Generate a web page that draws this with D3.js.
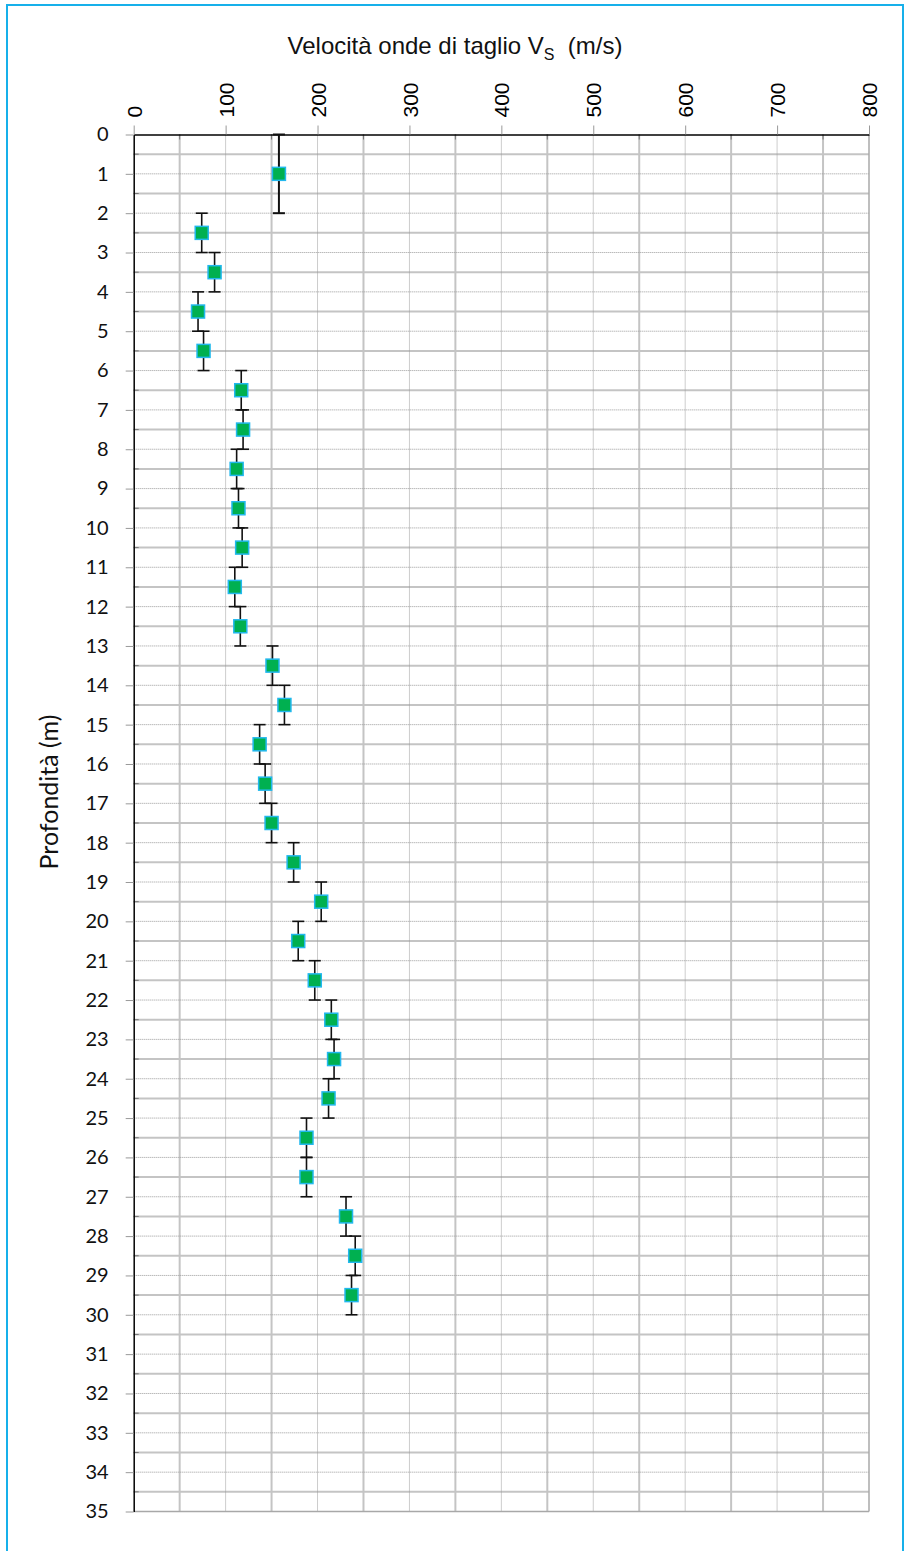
<!DOCTYPE html>
<html>
<head>
<meta charset="utf-8">
<script src="https://cdn.jsdelivr.net/npm/d3@7"></script>
<style>
  html, body { margin: 0; padding: 0; background: #fff; }
  svg { display: block; }
</style>
</head>
<body>
<svg id="chart" width="904" height="1551"></svg>
<script>
// Shear-wave velocity profile: one value per depth layer
const depths     = [1, 2.5, 3.5, 4.5, 5.5, 6.5, 7.5, 8.5, 9.5, 10.5, 11.5, 12.5, 13.5, 14.5, 15.5,
                    16.5, 17.5, 18.5, 19.5, 20.5, 21.5, 22.5, 23.5, 24.5, 25.5, 26.5, 27.5, 28.5, 29.5];
const velocities = [158, 74, 88, 70, 76, 117, 119, 112, 114, 118, 110, 116, 151, 164, 137,
                    143, 150, 174, 204, 179, 197, 215, 218, 212, 188, 188, 231, 241, 237];
// half thickness of each layer (vertical error bar)
const halfLayer  = [1, 0.5, 0.5, 0.5, 0.5, 0.5, 0.5, 0.5, 0.5, 0.5, 0.5, 0.5, 0.5, 0.5, 0.5,
                    0.5, 0.5, 0.5, 0.5, 0.5, 0.5, 0.5, 0.5, 0.5, 0.5, 0.5, 0.5, 0.5, 0.5];

const xTicks      = [0, 100, 200, 300, 400, 500, 600, 700, 800];
const xMinorTicks = [50, 150, 250, 350, 450, 550, 650, 750];
const yTicks      = d3.range(0, 36, 1);
const yMinorTicks = d3.range(0.5, 35, 1);

const titleText = "Velocità onde di taglio V";
const titleSub  = "S";
const titleUnit = "\u00a0\u00a0(m/s)";
const yTitle    = "Profondità (m)";

const svg = d3.select("#chart");

const x = d3.scaleLinear().domain([0, 800]).range([133.7, 869]);
const y = d3.scaleLinear().domain([0, 35]).range([134.5, 1511.5]);

// outer frame
svg.append("rect")
  .attr("x", 7).attr("y", 5)
  .attr("width", 896).attr("height", 1600)
  .attr("fill", "none")
  .attr("stroke", "#17b0ea")
  .attr("stroke-width", 2);

const grid = svg.append("g");

// minor gridlines: solid light grey
grid.selectAll(".vminor").data(xMinorTicks).join("line")
  .attr("x1", d => x(d)).attr("x2", d => x(d))
  .attr("y1", y(0)).attr("y2", y(35))
  .attr("stroke", "#c4c4c4").attr("stroke-width", 2);
grid.selectAll(".hminor").data(yMinorTicks).join("line")
  .attr("x1", x(0)).attr("x2", x(800))
  .attr("y1", d => y(d)).attr("y2", d => y(d))
  .attr("stroke", "#c4c4c4").attr("stroke-width", 2);

// major gridlines: thin dotted grey
grid.selectAll(".vmajor").data(xTicks.slice(1, -1)).join("line")
  .attr("x1", d => x(d)).attr("x2", d => x(d))
  .attr("y1", y(0)).attr("y2", y(35))
  .attr("stroke", "#9a9a9a").attr("stroke-width", 1)
  .attr("stroke-dasharray", "1,1");
grid.selectAll(".hmajor").data(yTicks.slice(1, -1)).join("line")
  .attr("x1", x(0)).attr("x2", x(800))
  .attr("y1", d => y(d)).attr("y2", d => y(d))
  .attr("stroke", "#9a9a9a").attr("stroke-width", 1)
  .attr("stroke-dasharray", "1,1");

// right and bottom edges of plot area
grid.append("line")
  .attr("x1", x(800)).attr("x2", x(800)).attr("y1", y(0)).attr("y2", y(35))
  .attr("stroke", "#a8a8a8").attr("stroke-width", 1.5);
grid.append("line")
  .attr("x1", x(0)).attr("x2", x(800)).attr("y1", y(35)).attr("y2", y(35))
  .attr("stroke", "#a8a8a8").attr("stroke-width", 1.5);

// minor tick marks inside the axes
grid.selectAll(".xmt").data(xMinorTicks).join("line")
  .attr("x1", d => x(d)).attr("x2", d => x(d))
  .attr("y1", y(0)).attr("y2", y(0) + 5)
  .attr("stroke", "#777").attr("stroke-width", 1);
grid.selectAll(".ymt").data(yMinorTicks).join("line")
  .attr("x1", x(0)).attr("x2", x(0) + 5)
  .attr("y1", d => y(d)).attr("y2", d => y(d))
  .attr("stroke", "#777").attr("stroke-width", 1);

// top axis (velocity)
const xAxis = svg.append("g")
  .attr("transform", `translate(0,${y(0)})`)
  .call(d3.axisTop(x).tickValues(xTicks).tickSize(9).tickSizeOuter(0));
xAxis.select(".domain").attr("stroke", "#000").attr("stroke-width", 1.5);
xAxis.selectAll(".tick line").attr("stroke", "#999");
xAxis.selectAll(".tick text")
  .attr("font-family", "'Liberation Sans', Arial, sans-serif")
  .attr("font-size", 21)
  .attr("fill", "#000")
  .attr("text-anchor", "start")
  .attr("x", 0).attr("y", 0).attr("dy", "0.36em")
  .attr("transform", "translate(0,-17) rotate(-90)");

// left axis (depth)
const yAxis = svg.append("g")
  .attr("transform", `translate(${x(0)},0)`)
  .call(d3.axisLeft(y).tickValues(yTicks).tickSize(8).tickSizeOuter(0).tickPadding(17));
yAxis.select(".domain").attr("stroke", "#000").attr("stroke-width", 1.5);
yAxis.selectAll(".tick line").attr("stroke", "#999");
yAxis.selectAll(".tick text")
  .attr("font-family", "Lato, 'Open Sans', sans-serif")
  .attr("font-size", 20)
  .attr("fill", "#111");

// error bars (layer thickness)
const errG = svg.append("g");
const capHalf = 6;
depths.forEach((d, i) => {
  const cx = x(velocities[i]);
  const top = y(d - halfLayer[i]);
  const bot = y(d + halfLayer[i]);
  const w = halfLayer[i] > 0.5 ? 2 : 1.6;
  errG.append("line").attr("x1", cx).attr("x2", cx).attr("y1", top).attr("y2", bot)
    .attr("stroke", "#111").attr("stroke-width", w);
  errG.append("line").attr("x1", cx - capHalf).attr("x2", cx + capHalf).attr("y1", top).attr("y2", top)
    .attr("stroke", "#111").attr("stroke-width", w);
  errG.append("line").attr("x1", cx - capHalf).attr("x2", cx + capHalf).attr("y1", bot).attr("y2", bot)
    .attr("stroke", "#111").attr("stroke-width", w);
});

// square markers
const size = 13;
svg.append("g").selectAll("rect").data(depths).join("rect")
  .attr("x", (d, i) => x(velocities[i]) - size / 2)
  .attr("y", d => y(d) - size / 2)
  .attr("width", size).attr("height", size)
  .attr("fill", "#00b050")
  .attr("stroke", "#22b8ee")
  .attr("stroke-width", 1.5);

// chart title
const title = svg.append("text")
  .attr("x", 455).attr("y", 54)
  .attr("text-anchor", "middle")
  .attr("font-family", "'Liberation Sans', Arial, sans-serif")
  .attr("font-size", 24)
  .attr("fill", "#111");
title.append("tspan").text(titleText);
title.append("tspan").text(titleSub).attr("font-size", 16).attr("dy", 6);
title.append("tspan").text(titleUnit).attr("dy", -6);

// vertical axis title
svg.append("text")
  .attr("transform", `translate(58,792) rotate(-90)`)
  .attr("text-anchor", "middle")
  .attr("font-family", "Lato, 'Open Sans', sans-serif")
  .attr("font-size", 25)
  .attr("fill", "#111")
  .text(yTitle);
</script>
</body>
</html>
